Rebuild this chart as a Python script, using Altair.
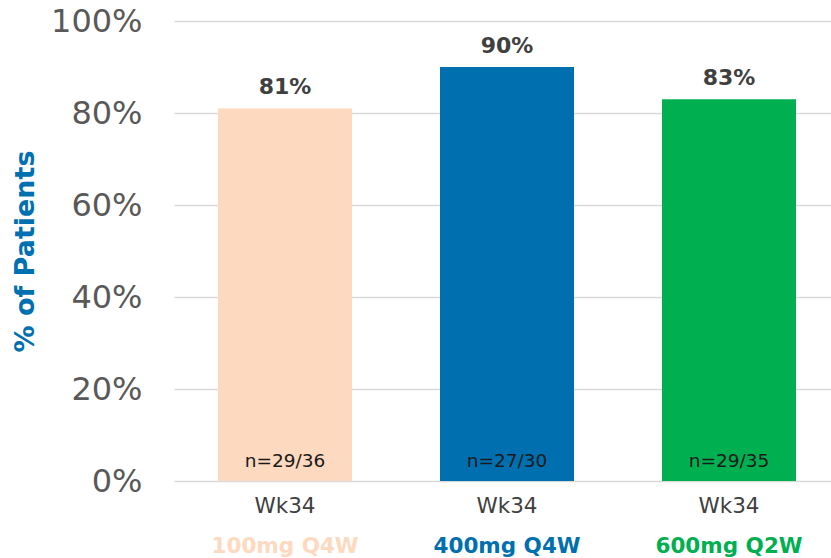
import altair as alt
import pandas as pd

# Dose groups and their response at week 34
groups = ["100mg Q4W", "400mg Q4W", "600mg Q2W"]
visits = ["Wk34", "Wk34", "Wk34"]
pct = [81, 90, 83]
responders = [29, 27, 29]
totals = [36, 30, 35]
colors = ["#FDD9BF", "#006FAF", "#00AF50"]

df = pd.DataFrame({
    "group": groups,
    "visit": visits,
    "frac": [p / 100 for p in pct],
    "label": [f"{p}%" for p in pct],
    "n": [f"n={r}/{t}" for r, t in zip(responders, totals)],
})

FONT = "DejaVu Sans"
W, H = 657, 460

x = alt.X(
    "group:N", sort=groups, axis=None,
    scale=alt.Scale(paddingInner=0.3964, paddingOuter=0.178, align=0.557),
)
color = alt.Color("group:N", scale=alt.Scale(domain=groups, range=colors), legend=None)

base = alt.Chart(df).encode(x=x)

bars = base.mark_bar().encode(
    y=alt.Y(
        "frac:Q",
        scale=alt.Scale(domain=[0, 1], nice=False),
        axis=alt.Axis(
            values=[0, 0.2, 0.4, 0.6, 0.8, 1.0],
            format=".0%",
            labelFont=FONT, labelFontSize=32, labelColor="#595959",
            labelPadding=32, ticks=False, domain=False,
            gridColor="#D9D9D9", gridWidth=1.5,
            title="% of Patients", titleFont=FONT, titleFontSize=27,
            titleFontWeight="bold", titleColor="#0070B0",
            titleAngle=-90, titleX=-149, titleY=230,
            titleBaseline="middle", titleAlign="center",
        ),
    ),
    color=color,
)

values = base.mark_text(
    font=FONT, fontSize=22, fontWeight="bold", color="#404040",
    baseline="alphabetic", dy=-14,
).encode(y="frac:Q", text="label:N")

counts = base.mark_text(
    font=FONT, fontSize=18.5, color="#1A1A1A",
    baseline="alphabetic", dy=-14,
).encode(y=alt.datum(0), text="n:N")

visit_lbl = base.mark_text(
    font=FONT, fontSize=21.5, color="#404040", baseline="alphabetic",
).encode(y=alt.value(H + 32), text="visit:N")

group_lbl = base.mark_text(
    font=FONT, fontSize=21.5, fontWeight="bold", baseline="alphabetic",
).encode(y=alt.value(H + 72), text="group:N", color=color)

chart = (
    alt.layer(bars, values, counts, visit_lbl, group_lbl)
    .properties(
        width=W, height=H,
        autosize=alt.AutoSizeParams(type="none"),
        padding={"left": 174, "top": 21, "right": 0, "bottom": 77},
    )
    .configure_view(stroke=None)
)

chart.save("out.html", embed_options={"renderer": "svg", "actions": False})
